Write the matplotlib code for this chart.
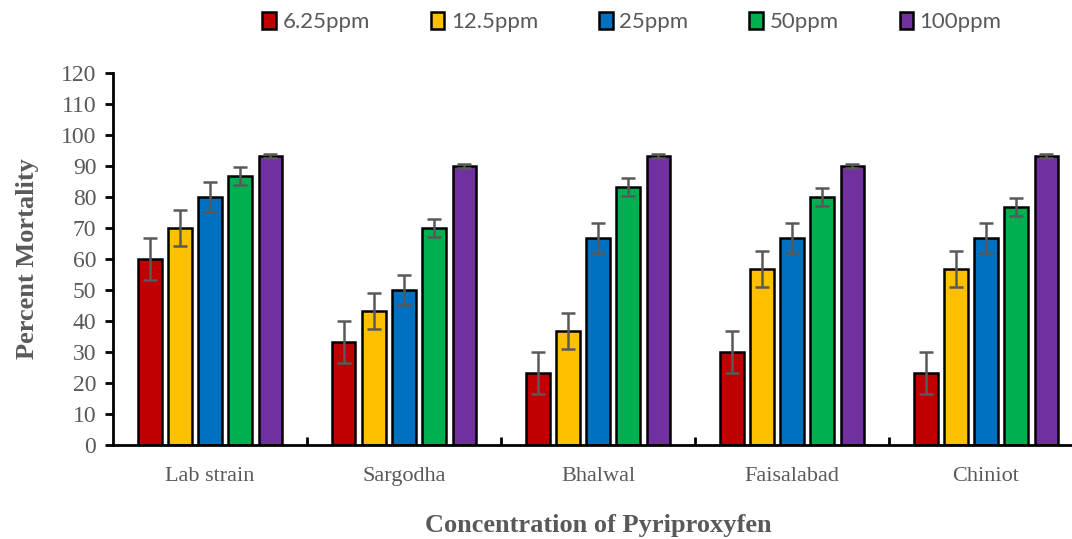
import numpy as np
import matplotlib.pyplot as plt
from matplotlib.ticker import FixedLocator, NullFormatter

# data
sites = ["Lab strain", "Sargodha", "Bhalwal", "Faisalabad", "Chiniot"]
doses = ["6.25ppm", "12.5ppm", "25ppm", "50ppm", "100ppm"]
colors = ["#C00000", "#FFC000", "#0070C0", "#00B050", "#7030A0"]

mort_625 = [60.0, 33.3, 23.3, 30.0, 23.3]
mort_125 = [70.0, 43.3, 36.7, 56.7, 56.7]
mort_25 = [80.0, 50.0, 66.7, 66.7, 66.7]
mort_50 = [86.7, 70.0, 83.3, 80.0, 76.7]
mort_100 = [93.3, 90.0, 93.3, 90.0, 93.3]

err_625 = [6.7, 6.7, 6.7, 6.7, 6.7]
err_125 = [5.8, 5.8, 5.8, 5.8, 5.8]
err_25 = [4.8, 4.8, 4.8, 4.8, 4.8]
err_50 = [2.9, 2.9, 2.9, 2.9, 2.9]
err_100 = [0.7, 0.8, 0.7, 0.8, 0.7]

means = [mort_625, mort_125, mort_25, mort_50, mort_100]
errs = [err_625, err_125, err_25, err_50, err_100]

grey = "#595959"
serif = ["Liberation Serif", "DejaVu Serif"]
plt.rcParams["font.family"] = serif

fig = plt.figure(figsize=(10.72, 5.39), dpi=100)
ax = fig.add_axes([113 / 1072, 94 / 539, 970 / 1072, 372 / 539])

x = np.arange(len(sites))
slot = 0.155
width = 0.12
for i, (m, e) in enumerate(zip(means, errs)):
    pos = x + (i - 2) * slot
    ax.bar(pos, m, width, color=colors[i], edgecolor="black", linewidth=1.8,
           label=doses[i], zorder=2)
    ax.errorbar(pos, m, yerr=e, fmt="none", ecolor=grey, elinewidth=1.8,
                capsize=5, capthick=1.8, zorder=3)

ax.set_xlim(-0.5, len(sites) - 0.5)
ax.set_ylim(0, 120)
ax.set_yticks(np.arange(0, 121, 10))

# category labels in the middle, tick marks at group boundaries
ax.xaxis.set_major_locator(FixedLocator(np.arange(0.5, len(sites) - 0.5, 1)))
ax.xaxis.set_major_formatter(NullFormatter())
ax.xaxis.set_minor_locator(FixedLocator(x))
ax.set_xticklabels(sites, minor=True)
ax.tick_params(axis="x", which="major", direction="in", length=6, width=2)
ax.tick_params(axis="x", which="minor", length=0, pad=16, labelsize=16,
               labelcolor=grey)
ax.tick_params(axis="y", direction="out", length=6, width=2, pad=6,
               labelsize=17, labelcolor=grey)

for s in ["top", "right"]:
    ax.spines[s].set_visible(False)
for s in ["left", "bottom"]:
    ax.spines[s].set_linewidth(2)

ax.set_ylabel("Percent Mortality", fontsize=19, fontweight="bold",
              color=grey, labelpad=16)
ax.set_xlabel("Concentration of Pyriproxyfen", fontsize=19,
              fontweight="bold", color=grey, labelpad=20)

leg = fig.legend(loc="center", bbox_to_anchor=(632 / 1072, 1 - 22 / 539), ncol=5,
                 frameon=False, handlelength=0.6, handleheight=0.85,
                 handletextpad=0.3, columnspacing=2.75,
                 prop={"family": ["Lato", "DejaVu Sans"], "size": 16})
for t in leg.get_texts():
    t.set_color(grey)

fig.savefig("out.png", dpi=100)
